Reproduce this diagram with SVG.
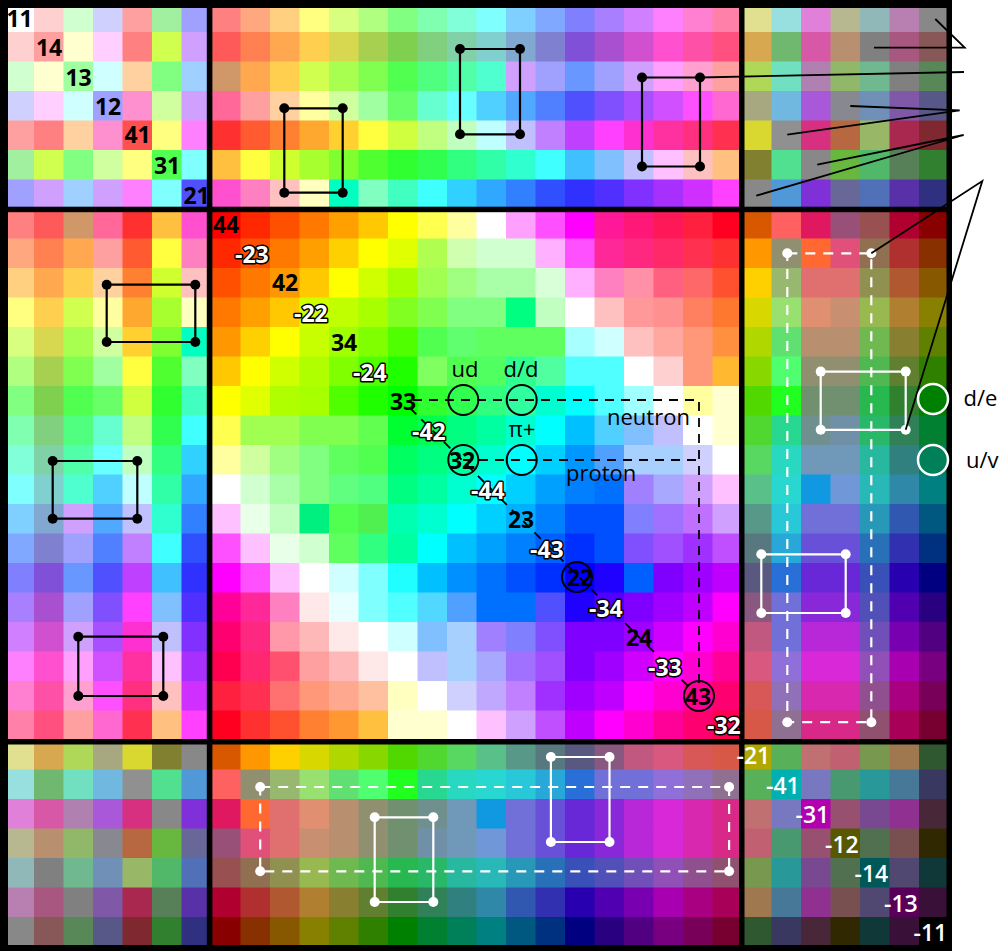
<svg xmlns="http://www.w3.org/2000/svg" width="1001" height="951" viewBox="0 0 1001 951">
<style>
#cells rect{width:30px;height:30px}
.k{fill:none;stroke:#000;stroke-width:2.2}
.w{fill:none;stroke:#fff;stroke-width:2.2}
.wd{fill:none;stroke:#fff;stroke-width:2.2;stroke-dasharray:10 8}
.kd{fill:none;stroke:#000;stroke-width:1.8;stroke-dasharray:9 7}
.ld{fill:none;stroke:#000;stroke-width:1.8}
.ck{fill:none;stroke:#000;stroke-width:2}
text{font-family:"Open Sans","Noto Sans","DejaVu Sans",sans-serif}
.n{font-size:23px;font-weight:700;text-anchor:end;fill:#000}
.nw{font-size:23px;font-weight:700;text-anchor:end;fill:#fff;stroke:#000;stroke-width:3;paint-order:stroke;stroke-linejoin:round}
.nr{font-size:23px;font-weight:600;text-anchor:end;fill:#fff}
.t{font-size:22px;fill:#000}
</style>
<rect width="1001" height="951" fill="#fff"/>
<g id="cells">
<g transform="translate(0,2.5)"><rect x="4.5" fill="#ffffff"/><rect x="34" fill="#ffd0d0"/><rect x="63.5" fill="#d0ffd0"/><rect x="93" fill="#d0d0ff"/><rect x="122.5" fill="#ffa0a0"/><rect x="152" fill="#a0f0a0"/><rect x="181.5" fill="#a0a0ff"/><rect x="211" fill="#ff8080"/><rect x="240.5" fill="#ffa880"/><rect x="270" fill="#ffd080"/><rect x="299.5" fill="#ffff80"/><rect x="329" fill="#d8ff80"/><rect x="358.5" fill="#b0ff80"/><rect x="388" fill="#80ff80"/><rect x="417.5" fill="#80ffb0"/><rect x="447" fill="#80ffd8"/><rect x="476.5" fill="#80ffff"/><rect x="506" fill="#80d0ff"/><rect x="535.5" fill="#80a8ff"/><rect x="565" fill="#8080ff"/><rect x="594.5" fill="#a880ff"/><rect x="624" fill="#d080ff"/><rect x="653.5" fill="#ff80ff"/><rect x="683" fill="#ff80d0"/><rect x="712.5" fill="#ff80a8"/><rect x="742" fill="#e0e090"/><rect x="771.5" fill="#98e0e0"/><rect x="801" fill="#e080d8"/><rect x="830.5" fill="#b8b890"/><rect x="860" fill="#90b8b8"/><rect x="889.5" fill="#b880b0"/><rect x="919" fill="#888888"/></g>
<g transform="translate(0,32)"><rect x="4.5" fill="#ffd0d0"/><rect x="34" fill="#ffa0a0"/><rect x="63.5" fill="#ffffd0"/><rect x="93" fill="#ffd0ff"/><rect x="122.5" fill="#ff8080"/><rect x="152" fill="#d0ff50"/><rect x="181.5" fill="#d0a0ff"/><rect x="211" fill="#ff5a5a"/><rect x="240.5" fill="#ff8050"/><rect x="270" fill="#ffa850"/><rect x="299.5" fill="#ffd050"/><rect x="329" fill="#d8d850"/><rect x="358.5" fill="#a8d050"/><rect x="388" fill="#80d050"/><rect x="417.5" fill="#80d080"/><rect x="447" fill="#80d0a8"/><rect x="476.5" fill="#80d0d0"/><rect x="506" fill="#80a8d0"/><rect x="535.5" fill="#8080d0"/><rect x="565" fill="#8050d8"/><rect x="594.5" fill="#a850d0"/><rect x="624" fill="#d050d0"/><rect x="653.5" fill="#ff50d0"/><rect x="683" fill="#ff50a8"/><rect x="712.5" fill="#ff5080"/><rect x="742" fill="#d8a850"/><rect x="771.5" fill="#70b870"/><rect x="801" fill="#d858a8"/><rect x="830.5" fill="#b89070"/><rect x="860" fill="#808080"/><rect x="889.5" fill="#a85880"/><rect x="919" fill="#885858"/></g>
<g transform="translate(0,61.5)"><rect x="4.5" fill="#d0ffd0"/><rect x="34" fill="#ffffd0"/><rect x="63.5" fill="#a0ffa0"/><rect x="93" fill="#d0ffff"/><rect x="122.5" fill="#ffd0a0"/><rect x="152" fill="#80ff80"/><rect x="181.5" fill="#a0d0ff"/><rect x="211" fill="#d09868"/><rect x="240.5" fill="#ffa850"/><rect x="270" fill="#ffd050"/><rect x="299.5" fill="#d0ff50"/><rect x="329" fill="#a8ff50"/><rect x="358.5" fill="#80ff50"/><rect x="388" fill="#50ff50"/><rect x="417.5" fill="#50ff80"/><rect x="447" fill="#50ffa8"/><rect x="476.5" fill="#50ffd0"/><rect x="506" fill="#d0a0ff"/><rect x="535.5" fill="#a0a0ff"/><rect x="565" fill="#6898ff"/><rect x="594.5" fill="#a0a0ff"/><rect x="624" fill="#d0a0ff"/><rect x="653.5" fill="#ffa0ff"/><rect x="683" fill="#ffa0d0"/><rect x="712.5" fill="#ffa0a0"/><rect x="742" fill="#b0d858"/><rect x="771.5" fill="#70e0c0"/><rect x="801" fill="#b080b0"/><rect x="830.5" fill="#90b868"/><rect x="860" fill="#70b890"/><rect x="889.5" fill="#808080"/><rect x="919" fill="#588858"/></g>
<g transform="translate(0,91)"><rect x="4.5" fill="#d0d0ff"/><rect x="34" fill="#ffd0ff"/><rect x="63.5" fill="#d0ffff"/><rect x="93" fill="#a0a0ff"/><rect x="122.5" fill="#ff90d0"/><rect x="152" fill="#d0ffa0"/><rect x="181.5" fill="#d0a0ff"/><rect x="211" fill="#ff6898"/><rect x="240.5" fill="#ffa0a0"/><rect x="270" fill="#ffd0a0"/><rect x="299.5" fill="#ffffa0"/><rect x="329" fill="#d0ffa0"/><rect x="358.5" fill="#a0ffa0"/><rect x="388" fill="#68ff68"/><rect x="417.5" fill="#68ffd0"/><rect x="447" fill="#68ffff"/><rect x="476.5" fill="#50d0ff"/><rect x="506" fill="#50a8ff"/><rect x="535.5" fill="#5080ff"/><rect x="565" fill="#5050ff"/><rect x="594.5" fill="#8050ff"/><rect x="624" fill="#a850ff"/><rect x="653.5" fill="#d050ff"/><rect x="683" fill="#ff50ff"/><rect x="712.5" fill="#ff68d0"/><rect x="742" fill="#a8a880"/><rect x="771.5" fill="#70b8e0"/><rect x="801" fill="#a858d8"/><rect x="830.5" fill="#888890"/><rect x="860" fill="#7090b8"/><rect x="889.5" fill="#8058a8"/><rect x="919" fill="#585888"/></g>
<g transform="translate(0,120.5)"><rect x="4.5" fill="#ffa0a0"/><rect x="34" fill="#ff8080"/><rect x="63.5" fill="#ffd0a0"/><rect x="93" fill="#ff90d0"/><rect x="122.5" fill="#ff5050"/><rect x="152" fill="#ffff80"/><rect x="181.5" fill="#ff80ff"/><rect x="211" fill="#ff3030"/><rect x="240.5" fill="#ff5a30"/><rect x="270" fill="#ff8030"/><rect x="299.5" fill="#ffa830"/><rect x="329" fill="#ffd030"/><rect x="358.5" fill="#ffff40"/><rect x="388" fill="#d0ff40"/><rect x="417.5" fill="#c0ff80"/><rect x="447" fill="#c0ffc0"/><rect x="476.5" fill="#c0ffff"/><rect x="506" fill="#c0c0ff"/><rect x="535.5" fill="#c080ff"/><rect x="565" fill="#c040ff"/><rect x="594.5" fill="#ff40ff"/><rect x="624" fill="#ff30d0"/><rect x="653.5" fill="#ff30a0"/><rect x="683" fill="#ff3080"/><rect x="712.5" fill="#ff3050"/><rect x="742" fill="#d8d830"/><rect x="771.5" fill="#909090"/><rect x="801" fill="#d83080"/><rect x="830.5" fill="#b86840"/><rect x="860" fill="#98b868"/><rect x="889.5" fill="#a82850"/><rect x="919" fill="#802830"/></g>
<g transform="translate(0,150)"><rect x="4.5" fill="#a0f0a0"/><rect x="34" fill="#d0ff50"/><rect x="63.5" fill="#80ff80"/><rect x="93" fill="#d0ffa0"/><rect x="122.5" fill="#ffff80"/><rect x="152" fill="#50ff50"/><rect x="181.5" fill="#80ffff"/><rect x="211" fill="#ffc040"/><rect x="240.5" fill="#ffff40"/><rect x="270" fill="#d0ff30"/><rect x="299.5" fill="#a8ff30"/><rect x="329" fill="#80ff30"/><rect x="358.5" fill="#50ff30"/><rect x="388" fill="#30ff30"/><rect x="417.5" fill="#30ff50"/><rect x="447" fill="#30ff80"/><rect x="476.5" fill="#30ffa8"/><rect x="506" fill="#30ffd0"/><rect x="535.5" fill="#40ffff"/><rect x="565" fill="#40c0ff"/><rect x="594.5" fill="#80c0ff"/><rect x="624" fill="#c0c0ff"/><rect x="653.5" fill="#ffc0ff"/><rect x="683" fill="#ffc0c0"/><rect x="712.5" fill="#ffc080"/><rect x="742" fill="#808030"/><rect x="771.5" fill="#50e090"/><rect x="801" fill="#888888"/><rect x="830.5" fill="#68b840"/><rect x="860" fill="#50b868"/><rect x="889.5" fill="#588058"/><rect x="919" fill="#308030"/></g>
<g transform="translate(0,179.5)"><rect x="4.5" fill="#a0a0ff"/><rect x="34" fill="#d0a0ff"/><rect x="63.5" fill="#a0d0ff"/><rect x="93" fill="#d0a0ff"/><rect x="122.5" fill="#ff80ff"/><rect x="152" fill="#80ffff"/><rect x="181.5" fill="#5050ff"/><rect x="211" fill="#ff50d0"/><rect x="240.5" fill="#ff80c0"/><rect x="270" fill="#ffc0c0"/><rect x="299.5" fill="#ffffc0"/><rect x="329" fill="#00ffc0"/><rect x="358.5" fill="#80ffc0"/><rect x="388" fill="#40ffc0"/><rect x="417.5" fill="#40ffff"/><rect x="447" fill="#30d0ff"/><rect x="476.5" fill="#30a8ff"/><rect x="506" fill="#3080ff"/><rect x="535.5" fill="#3050ff"/><rect x="565" fill="#3030ff"/><rect x="594.5" fill="#5030ff"/><rect x="624" fill="#8030ff"/><rect x="653.5" fill="#a830ff"/><rect x="683" fill="#d030ff"/><rect x="712.5" fill="#ff40ff"/><rect x="742" fill="#888888"/><rect x="771.5" fill="#5098d8"/><rect x="801" fill="#8030d8"/><rect x="830.5" fill="#686898"/><rect x="860" fill="#5070b8"/><rect x="889.5" fill="#5830a8"/><rect x="919" fill="#303080"/></g>
<g transform="translate(0,209)"><rect x="4.5" fill="#ff8080"/><rect x="34" fill="#ff5a5a"/><rect x="63.5" fill="#d09868"/><rect x="93" fill="#ff6898"/><rect x="122.5" fill="#ff3030"/><rect x="152" fill="#ffc040"/><rect x="181.5" fill="#ff50d0"/><rect x="211" fill="#ff0000"/><rect x="240.5" fill="#ff2800"/><rect x="270" fill="#ff5000"/><rect x="299.5" fill="#ff7800"/><rect x="329" fill="#ffa000"/><rect x="358.5" fill="#ffc800"/><rect x="388" fill="#ffff00"/><rect x="417.5" fill="#ffff50"/><rect x="447" fill="#ffffa0"/><rect x="476.5" fill="#ffffff"/><rect x="506" fill="#ffa0ff"/><rect x="535.5" fill="#ff50ff"/><rect x="565" fill="#ff00ff"/><rect x="594.5" fill="#ff1898"/><rect x="624" fill="#ff1878"/><rect x="653.5" fill="#ff1858"/><rect x="683" fill="#ff2040"/><rect x="712.5" fill="#ff0020"/><rect x="742" fill="#d85800"/><rect x="771.5" fill="#ff6060"/><rect x="801" fill="#e01860"/><rect x="830.5" fill="#985078"/><rect x="860" fill="#985050"/><rect x="889.5" fill="#b00030"/><rect x="919" fill="#880000"/></g>
<g transform="translate(0,238.5)"><rect x="4.5" fill="#ffa880"/><rect x="34" fill="#ff8050"/><rect x="63.5" fill="#ffa850"/><rect x="93" fill="#ffa0a0"/><rect x="122.5" fill="#ff5a30"/><rect x="152" fill="#ffff40"/><rect x="181.5" fill="#ff80c0"/><rect x="211" fill="#ff2800"/><rect x="240.5" fill="#ff5000"/><rect x="270" fill="#ff7800"/><rect x="299.5" fill="#ffa000"/><rect x="329" fill="#ffd000"/><rect x="358.5" fill="#ffff00"/><rect x="388" fill="#e0ff00"/><rect x="417.5" fill="#b0ff50"/><rect x="447" fill="#d0ffb0"/><rect x="476.5" fill="#d0ffd0"/><rect x="506" fill="#d0ffd0"/><rect x="535.5" fill="#ffb0ff"/><rect x="565" fill="#ff50ff"/><rect x="594.5" fill="#ff2898"/><rect x="624" fill="#ff2880"/><rect x="653.5" fill="#ff2868"/><rect x="683" fill="#ff3050"/><rect x="712.5" fill="#ff3030"/><rect x="742" fill="#ff9800"/><rect x="771.5" fill="#909070"/><rect x="801" fill="#ff6830"/><rect x="830.5" fill="#e05078"/><rect x="860" fill="#907050"/><rect x="889.5" fill="#b03030"/><rect x="919" fill="#883000"/></g>
<g transform="translate(0,268)"><rect x="4.5" fill="#ffd080"/><rect x="34" fill="#ffa850"/><rect x="63.5" fill="#ffd050"/><rect x="93" fill="#ffd0a0"/><rect x="122.5" fill="#ff8030"/><rect x="152" fill="#d0ff30"/><rect x="181.5" fill="#ffc0c0"/><rect x="211" fill="#ff5000"/><rect x="240.5" fill="#ff7800"/><rect x="270" fill="#ff9800"/><rect x="299.5" fill="#ffc800"/><rect x="329" fill="#ffff00"/><rect x="358.5" fill="#d0ff00"/><rect x="388" fill="#a8ff00"/><rect x="417.5" fill="#a0ff50"/><rect x="447" fill="#a0ff80"/><rect x="476.5" fill="#a8ffa8"/><rect x="506" fill="#a8ffa8"/><rect x="535.5" fill="#d8ffd8"/><rect x="565" fill="#ffb0ff"/><rect x="594.5" fill="#ff80c0"/><rect x="624" fill="#ff90a8"/><rect x="653.5" fill="#ff6080"/><rect x="683" fill="#ff6868"/><rect x="712.5" fill="#ff5030"/><rect x="742" fill="#ffd000"/><rect x="771.5" fill="#98b870"/><rect x="801" fill="#e07070"/><rect x="830.5" fill="#e07070"/><rect x="860" fill="#909050"/><rect x="889.5" fill="#b05830"/><rect x="919" fill="#885800"/></g>
<g transform="translate(0,297.5)"><rect x="4.5" fill="#ffff80"/><rect x="34" fill="#ffd050"/><rect x="63.5" fill="#d0ff50"/><rect x="93" fill="#ffffa0"/><rect x="122.5" fill="#ffa830"/><rect x="152" fill="#a8ff30"/><rect x="181.5" fill="#ffffc0"/><rect x="211" fill="#ff7800"/><rect x="240.5" fill="#ffa000"/><rect x="270" fill="#ffc800"/><rect x="299.5" fill="#d0ff00"/><rect x="329" fill="#c0ff00"/><rect x="358.5" fill="#a8ff00"/><rect x="388" fill="#80ff20"/><rect x="417.5" fill="#80ff50"/><rect x="447" fill="#80ff80"/><rect x="476.5" fill="#80ff80"/><rect x="506" fill="#00ff80"/><rect x="535.5" fill="#c0ffc0"/><rect x="565" fill="#ffffff"/><rect x="594.5" fill="#ffc0c0"/><rect x="624" fill="#ff9898"/><rect x="653.5" fill="#ff9090"/><rect x="683" fill="#ff8060"/><rect x="712.5" fill="#ff7830"/><rect x="742" fill="#d8d800"/><rect x="771.5" fill="#98e070"/><rect x="801" fill="#e09070"/><rect x="830.5" fill="#c89070"/><rect x="860" fill="#98b850"/><rect x="889.5" fill="#b08030"/><rect x="919" fill="#888000"/></g>
<g transform="translate(0,327)"><rect x="4.5" fill="#d8ff80"/><rect x="34" fill="#d8d850"/><rect x="63.5" fill="#a8ff50"/><rect x="93" fill="#d0ffa0"/><rect x="122.5" fill="#ffd030"/><rect x="152" fill="#80ff30"/><rect x="181.5" fill="#00ffc0"/><rect x="211" fill="#ff9800"/><rect x="240.5" fill="#ffd000"/><rect x="270" fill="#ffff00"/><rect x="299.5" fill="#c8ff00"/><rect x="329" fill="#a0ff00"/><rect x="358.5" fill="#80ff00"/><rect x="388" fill="#50ff00"/><rect x="417.5" fill="#50ff50"/><rect x="447" fill="#60ff70"/><rect x="476.5" fill="#60ff60"/><rect x="506" fill="#60ff60"/><rect x="535.5" fill="#60ff60"/><rect x="565" fill="#a8ffff"/><rect x="594.5" fill="#d0ffff"/><rect x="624" fill="#ffc0c0"/><rect x="653.5" fill="#ffa8a0"/><rect x="683" fill="#ff9878"/><rect x="712.5" fill="#ff9040"/><rect x="742" fill="#b0d800"/><rect x="771.5" fill="#60e070"/><rect x="801" fill="#b89070"/><rect x="830.5" fill="#b89070"/><rect x="860" fill="#70b850"/><rect x="889.5" fill="#888030"/><rect x="919" fill="#608000"/></g>
<g transform="translate(0,356.5)"><rect x="4.5" fill="#b0ff80"/><rect x="34" fill="#a8d050"/><rect x="63.5" fill="#80ff50"/><rect x="93" fill="#a0ffa0"/><rect x="122.5" fill="#ffff40"/><rect x="152" fill="#50ff30"/><rect x="181.5" fill="#80ffc0"/><rect x="211" fill="#ffc800"/><rect x="240.5" fill="#ffff00"/><rect x="270" fill="#d0ff00"/><rect x="299.5" fill="#b0ff00"/><rect x="329" fill="#80ff00"/><rect x="358.5" fill="#50ff00"/><rect x="388" fill="#20ff00"/><rect x="417.5" fill="#80ff60"/><rect x="447" fill="#50ff50"/><rect x="476.5" fill="#50ff60"/><rect x="506" fill="#30ff90"/><rect x="535.5" fill="#50ffa0"/><rect x="565" fill="#50ffff"/><rect x="594.5" fill="#50ffff"/><rect x="624" fill="#ffffff"/><rect x="653.5" fill="#ffd0d0"/><rect x="683" fill="#ff9878"/><rect x="712.5" fill="#ffb830"/><rect x="742" fill="#88d800"/><rect x="771.5" fill="#50ff70"/><rect x="801" fill="#909070"/><rect x="830.5" fill="#909070"/><rect x="860" fill="#50b850"/><rect x="889.5" fill="#608030"/><rect x="919" fill="#308000"/></g>
<g transform="translate(0,386)"><rect x="4.5" fill="#80ff80"/><rect x="34" fill="#80d050"/><rect x="63.5" fill="#50ff50"/><rect x="93" fill="#68ff68"/><rect x="122.5" fill="#d0ff40"/><rect x="152" fill="#30ff30"/><rect x="181.5" fill="#40ffc0"/><rect x="211" fill="#ffff00"/><rect x="240.5" fill="#e0ff00"/><rect x="270" fill="#b0ff00"/><rect x="299.5" fill="#a8ff00"/><rect x="329" fill="#50ff00"/><rect x="358.5" fill="#20ff00"/><rect x="388" fill="#00ff00"/><rect x="417.5" fill="#30ff30"/><rect x="447" fill="#30ff50"/><rect x="476.5" fill="#30ff80"/><rect x="506" fill="#30ffa0"/><rect x="535.5" fill="#00ffd0"/><rect x="565" fill="#00ffff"/><rect x="594.5" fill="#50ffff"/><rect x="624" fill="#a0ffff"/><rect x="653.5" fill="#ffffff"/><rect x="683" fill="#ffffa0"/><rect x="712.5" fill="#ffffd0"/><rect x="742" fill="#50d800"/><rect x="771.5" fill="#20ff20"/><rect x="801" fill="#709070"/><rect x="830.5" fill="#709070"/><rect x="860" fill="#28b850"/><rect x="889.5" fill="#308030"/><rect x="919" fill="#008000"/></g>
<g transform="translate(0,415.5)"><rect x="4.5" fill="#80ffb0"/><rect x="34" fill="#80d080"/><rect x="63.5" fill="#50ff80"/><rect x="93" fill="#68ffd0"/><rect x="122.5" fill="#c0ff80"/><rect x="152" fill="#30ff50"/><rect x="181.5" fill="#40ffff"/><rect x="211" fill="#ffff50"/><rect x="240.5" fill="#a0ff50"/><rect x="270" fill="#a0ff50"/><rect x="299.5" fill="#80ff50"/><rect x="329" fill="#80ff50"/><rect x="358.5" fill="#60ff50"/><rect x="388" fill="#00ff30"/><rect x="417.5" fill="#00ff50"/><rect x="447" fill="#00ff80"/><rect x="476.5" fill="#00ffa0"/><rect x="506" fill="#00ffd0"/><rect x="535.5" fill="#00ffff"/><rect x="565" fill="#00c0ff"/><rect x="594.5" fill="#50d0ff"/><rect x="624" fill="#80c0ff"/><rect x="653.5" fill="#c0c0ff"/><rect x="683" fill="#ffffff"/><rect x="712.5" fill="#ffffd0"/><rect x="742" fill="#50d830"/><rect x="771.5" fill="#28d890"/><rect x="801" fill="#709090"/><rect x="830.5" fill="#7090a8"/><rect x="860" fill="#28b868"/><rect x="889.5" fill="#308058"/><rect x="919" fill="#008030"/></g>
<g transform="translate(0,445)"><rect x="4.5" fill="#80ffd8"/><rect x="34" fill="#80d0a8"/><rect x="63.5" fill="#50ffa8"/><rect x="93" fill="#68ffff"/><rect x="122.5" fill="#c0ffc0"/><rect x="152" fill="#30ff80"/><rect x="181.5" fill="#30d0ff"/><rect x="211" fill="#ffffa0"/><rect x="240.5" fill="#d0ffa0"/><rect x="270" fill="#a0ff80"/><rect x="299.5" fill="#80ff80"/><rect x="329" fill="#60ff60"/><rect x="358.5" fill="#50ff50"/><rect x="388" fill="#00ff60"/><rect x="417.5" fill="#00ff80"/><rect x="447" fill="#00ffa0"/><rect x="476.5" fill="#00ffd0"/><rect x="506" fill="#00ffff"/><rect x="535.5" fill="#00d0ff"/><rect x="565" fill="#0098ff"/><rect x="594.5" fill="#50a0ff"/><rect x="624" fill="#a8d0ff"/><rect x="653.5" fill="#a8d0ff"/><rect x="683" fill="#d0d0ff"/><rect x="712.5" fill="#ffffff"/><rect x="742" fill="#58d860"/><rect x="771.5" fill="#28d8c0"/><rect x="801" fill="#7098b8"/><rect x="830.5" fill="#7098b8"/><rect x="860" fill="#28b8a0"/><rect x="889.5" fill="#308080"/><rect x="919" fill="#008058"/></g>
<g transform="translate(0,474.5)"><rect x="4.5" fill="#80ffff"/><rect x="34" fill="#80d0d0"/><rect x="63.5" fill="#50ffd0"/><rect x="93" fill="#50d0ff"/><rect x="122.5" fill="#c0ffff"/><rect x="152" fill="#30ffa8"/><rect x="181.5" fill="#30a8ff"/><rect x="211" fill="#ffffff"/><rect x="240.5" fill="#d0ffd0"/><rect x="270" fill="#a8ffa8"/><rect x="299.5" fill="#80ff80"/><rect x="329" fill="#60ff80"/><rect x="358.5" fill="#50ff80"/><rect x="388" fill="#00ff80"/><rect x="417.5" fill="#00ffa0"/><rect x="447" fill="#00ffd0"/><rect x="476.5" fill="#00ffff"/><rect x="506" fill="#00d0ff"/><rect x="535.5" fill="#00a0ff"/><rect x="565" fill="#0080ff"/><rect x="594.5" fill="#0070ff"/><rect x="624" fill="#a080ff"/><rect x="653.5" fill="#a8a8ff"/><rect x="683" fill="#d0a0ff"/><rect x="712.5" fill="#ffc0ff"/><rect x="742" fill="#58c088"/><rect x="771.5" fill="#28d8d0"/><rect x="801" fill="#1098e0"/><rect x="830.5" fill="#7098d8"/><rect x="860" fill="#28b8b8"/><rect x="889.5" fill="#3088a8"/><rect x="919" fill="#008080"/></g>
<g transform="translate(0,504)"><rect x="4.5" fill="#80d0ff"/><rect x="34" fill="#80a8d0"/><rect x="63.5" fill="#d0a0ff"/><rect x="93" fill="#50a8ff"/><rect x="122.5" fill="#c0c0ff"/><rect x="152" fill="#30ffd0"/><rect x="181.5" fill="#3080ff"/><rect x="211" fill="#ffc0ff"/><rect x="240.5" fill="#e8ffe8"/><rect x="270" fill="#c0ffc0"/><rect x="299.5" fill="#00f080"/><rect x="329" fill="#50ff50"/><rect x="358.5" fill="#50f050"/><rect x="388" fill="#00ffb0"/><rect x="417.5" fill="#00ffd0"/><rect x="447" fill="#00ffff"/><rect x="476.5" fill="#00d0ff"/><rect x="506" fill="#00b0ff"/><rect x="535.5" fill="#0080ff"/><rect x="565" fill="#0050ff"/><rect x="594.5" fill="#0050ff"/><rect x="624" fill="#8080ff"/><rect x="653.5" fill="#a070ff"/><rect x="683" fill="#c070ff"/><rect x="712.5" fill="#d0a0ff"/><rect x="742" fill="#589888"/><rect x="771.5" fill="#28c8d8"/><rect x="801" fill="#7070d8"/><rect x="830.5" fill="#7070d8"/><rect x="860" fill="#2898b8"/><rect x="889.5" fill="#3058b0"/><rect x="919" fill="#005880"/></g>
<g transform="translate(0,533.5)"><rect x="4.5" fill="#80a8ff"/><rect x="34" fill="#8080d0"/><rect x="63.5" fill="#a0a0ff"/><rect x="93" fill="#5080ff"/><rect x="122.5" fill="#c080ff"/><rect x="152" fill="#40ffff"/><rect x="181.5" fill="#3050ff"/><rect x="211" fill="#ff50ff"/><rect x="240.5" fill="#ffc0ff"/><rect x="270" fill="#e8ffe8"/><rect x="299.5" fill="#d0ffd0"/><rect x="329" fill="#60ff60"/><rect x="358.5" fill="#30ff80"/><rect x="388" fill="#00ffa0"/><rect x="417.5" fill="#00ffff"/><rect x="447" fill="#00c0ff"/><rect x="476.5" fill="#00a0ff"/><rect x="506" fill="#0080ff"/><rect x="535.5" fill="#0060ff"/><rect x="565" fill="#0030ff"/><rect x="594.5" fill="#0050ff"/><rect x="624" fill="#8050ff"/><rect x="653.5" fill="#a050ff"/><rect x="683" fill="#a030ff"/><rect x="712.5" fill="#c050ff"/><rect x="742" fill="#587880"/><rect x="771.5" fill="#28a8d8"/><rect x="801" fill="#6850d8"/><rect x="830.5" fill="#6850d8"/><rect x="860" fill="#2870b8"/><rect x="889.5" fill="#3030b0"/><rect x="919" fill="#003080"/></g>
<g transform="translate(0,563)"><rect x="4.5" fill="#8080ff"/><rect x="34" fill="#8050d8"/><rect x="63.5" fill="#6898ff"/><rect x="93" fill="#5050ff"/><rect x="122.5" fill="#c040ff"/><rect x="152" fill="#40c0ff"/><rect x="181.5" fill="#3030ff"/><rect x="211" fill="#ff00ff"/><rect x="240.5" fill="#ff50ff"/><rect x="270" fill="#ffc0ff"/><rect x="299.5" fill="#ffffff"/><rect x="329" fill="#d0ffff"/><rect x="358.5" fill="#80ffff"/><rect x="388" fill="#20ffff"/><rect x="417.5" fill="#00c0ff"/><rect x="447" fill="#0090ff"/><rect x="476.5" fill="#0070ff"/><rect x="506" fill="#0050ff"/><rect x="535.5" fill="#0030ff"/><rect x="565" fill="#0000ff"/><rect x="594.5" fill="#2000ff"/><rect x="624" fill="#0060ff"/><rect x="653.5" fill="#8000ff"/><rect x="683" fill="#a000ff"/><rect x="712.5" fill="#c000ff"/><rect x="742" fill="#585880"/><rect x="771.5" fill="#2870d8"/><rect x="801" fill="#6828d8"/><rect x="830.5" fill="#6828d8"/><rect x="860" fill="#3850b8"/><rect x="889.5" fill="#2800b0"/><rect x="919" fill="#000080"/></g>
<g transform="translate(0,592.5)"><rect x="4.5" fill="#a880ff"/><rect x="34" fill="#a850d0"/><rect x="63.5" fill="#a0a0ff"/><rect x="93" fill="#8050ff"/><rect x="122.5" fill="#ff40ff"/><rect x="152" fill="#80c0ff"/><rect x="181.5" fill="#5030ff"/><rect x="211" fill="#ff0098"/><rect x="240.5" fill="#ff2898"/><rect x="270" fill="#ff80c0"/><rect x="299.5" fill="#ffe8e8"/><rect x="329" fill="#e8ffff"/><rect x="358.5" fill="#80ffff"/><rect x="388" fill="#50ffff"/><rect x="417.5" fill="#50d8ff"/><rect x="447" fill="#50a0ff"/><rect x="476.5" fill="#0070ff"/><rect x="506" fill="#0070ff"/><rect x="535.5" fill="#5050ff"/><rect x="565" fill="#2000ff"/><rect x="594.5" fill="#5000ff"/><rect x="624" fill="#8000ff"/><rect x="653.5" fill="#a000ff"/><rect x="683" fill="#c000ff"/><rect x="712.5" fill="#ff00ff"/><rect x="742" fill="#885880"/><rect x="771.5" fill="#7070d8"/><rect x="801" fill="#8828d8"/><rect x="830.5" fill="#8828d8"/><rect x="860" fill="#5050b8"/><rect x="889.5" fill="#5000b0"/><rect x="919" fill="#280080"/></g>
<g transform="translate(0,622)"><rect x="4.5" fill="#d080ff"/><rect x="34" fill="#d050d0"/><rect x="63.5" fill="#d0a0ff"/><rect x="93" fill="#a850ff"/><rect x="122.5" fill="#ff30d0"/><rect x="152" fill="#c0c0ff"/><rect x="181.5" fill="#8030ff"/><rect x="211" fill="#ff0070"/><rect x="240.5" fill="#ff2880"/><rect x="270" fill="#ff98a8"/><rect x="299.5" fill="#ffb8b8"/><rect x="329" fill="#ffe8e8"/><rect x="358.5" fill="#ffffff"/><rect x="388" fill="#d0ffff"/><rect x="417.5" fill="#80c0ff"/><rect x="447" fill="#a8d0ff"/><rect x="476.5" fill="#a080ff"/><rect x="506" fill="#8080ff"/><rect x="535.5" fill="#8050ff"/><rect x="565" fill="#8000ff"/><rect x="594.5" fill="#8000ff"/><rect x="624" fill="#a000ff"/><rect x="653.5" fill="#d000ff"/><rect x="683" fill="#ff00ff"/><rect x="712.5" fill="#ff00d0"/><rect x="742" fill="#c05880"/><rect x="771.5" fill="#7070d8"/><rect x="801" fill="#b828d8"/><rect x="830.5" fill="#b828d8"/><rect x="860" fill="#7050b8"/><rect x="889.5" fill="#7800b0"/><rect x="919" fill="#500080"/></g>
<g transform="translate(0,651.5)"><rect x="4.5" fill="#ff80ff"/><rect x="34" fill="#ff50d0"/><rect x="63.5" fill="#ffa0ff"/><rect x="93" fill="#d050ff"/><rect x="122.5" fill="#ff30a0"/><rect x="152" fill="#ffc0ff"/><rect x="181.5" fill="#a830ff"/><rect x="211" fill="#ff0050"/><rect x="240.5" fill="#ff2870"/><rect x="270" fill="#ff5070"/><rect x="299.5" fill="#ffa0a0"/><rect x="329" fill="#ffb8b8"/><rect x="358.5" fill="#ffe8e8"/><rect x="388" fill="#ffffff"/><rect x="417.5" fill="#c0c0ff"/><rect x="447" fill="#a8d0ff"/><rect x="476.5" fill="#a8a8ff"/><rect x="506" fill="#a070ff"/><rect x="535.5" fill="#a050ff"/><rect x="565" fill="#8000ff"/><rect x="594.5" fill="#a000ff"/><rect x="624" fill="#d000ff"/><rect x="653.5" fill="#ff00ff"/><rect x="683" fill="#ff00d0"/><rect x="712.5" fill="#ff0098"/><rect x="742" fill="#d85880"/><rect x="771.5" fill="#9070d8"/><rect x="801" fill="#d828d8"/><rect x="830.5" fill="#d828d8"/><rect x="860" fill="#9050b8"/><rect x="889.5" fill="#a800b0"/><rect x="919" fill="#780080"/></g>
<g transform="translate(0,681)"><rect x="4.5" fill="#ff80d0"/><rect x="34" fill="#ff50a8"/><rect x="63.5" fill="#ffa0d0"/><rect x="93" fill="#ff50ff"/><rect x="122.5" fill="#ff3080"/><rect x="152" fill="#ffc0c0"/><rect x="181.5" fill="#d030ff"/><rect x="211" fill="#ff2040"/><rect x="240.5" fill="#ff3050"/><rect x="270" fill="#ff7070"/><rect x="299.5" fill="#ff9878"/><rect x="329" fill="#ffa890"/><rect x="358.5" fill="#ffc0a0"/><rect x="388" fill="#ffffc0"/><rect x="417.5" fill="#ffffff"/><rect x="447" fill="#d0d0ff"/><rect x="476.5" fill="#c0a8ff"/><rect x="506" fill="#c080ff"/><rect x="535.5" fill="#a030ff"/><rect x="565" fill="#a000ff"/><rect x="594.5" fill="#c000ff"/><rect x="624" fill="#ff00ff"/><rect x="653.5" fill="#ff00d0"/><rect x="683" fill="#ff0098"/><rect x="712.5" fill="#ff0070"/><rect x="742" fill="#d85858"/><rect x="771.5" fill="#9070b8"/><rect x="801" fill="#d828b0"/><rect x="830.5" fill="#d828b0"/><rect x="860" fill="#905090"/><rect x="889.5" fill="#a80080"/><rect x="919" fill="#780058"/></g>
<g transform="translate(0,710.5)"><rect x="4.5" fill="#ff80a8"/><rect x="34" fill="#ff5080"/><rect x="63.5" fill="#ffa0a0"/><rect x="93" fill="#ff68d0"/><rect x="122.5" fill="#ff3050"/><rect x="152" fill="#ffc080"/><rect x="181.5" fill="#ff40ff"/><rect x="211" fill="#ff0020"/><rect x="240.5" fill="#ff3030"/><rect x="270" fill="#ff5030"/><rect x="299.5" fill="#ff8030"/><rect x="329" fill="#ff9830"/><rect x="358.5" fill="#ffc040"/><rect x="388" fill="#ffffd0"/><rect x="417.5" fill="#ffffd0"/><rect x="447" fill="#ffffff"/><rect x="476.5" fill="#ffc0ff"/><rect x="506" fill="#d0a0ff"/><rect x="535.5" fill="#c050ff"/><rect x="565" fill="#c000ff"/><rect x="594.5" fill="#ff00ff"/><rect x="624" fill="#ff00d0"/><rect x="653.5" fill="#ff0098"/><rect x="683" fill="#ff0070"/><rect x="712.5" fill="#ff0050"/><rect x="742" fill="#d85848"/><rect x="771.5" fill="#907090"/><rect x="801" fill="#d82888"/><rect x="830.5" fill="#d82888"/><rect x="860" fill="#905070"/><rect x="889.5" fill="#a80058"/><rect x="919" fill="#780030"/></g>
<g transform="translate(0,740)"><rect x="4.5" fill="#e0e090"/><rect x="34" fill="#d8a850"/><rect x="63.5" fill="#b0d858"/><rect x="93" fill="#a8a880"/><rect x="122.5" fill="#d8d830"/><rect x="152" fill="#808030"/><rect x="181.5" fill="#888888"/><rect x="211" fill="#d85800"/><rect x="240.5" fill="#ff9800"/><rect x="270" fill="#ffd000"/><rect x="299.5" fill="#d8d800"/><rect x="329" fill="#b0d800"/><rect x="358.5" fill="#88d800"/><rect x="388" fill="#50d800"/><rect x="417.5" fill="#50d830"/><rect x="447" fill="#58d860"/><rect x="476.5" fill="#58c088"/><rect x="506" fill="#589888"/><rect x="535.5" fill="#587880"/><rect x="565" fill="#585880"/><rect x="594.5" fill="#885880"/><rect x="624" fill="#c05880"/><rect x="653.5" fill="#d85880"/><rect x="683" fill="#d85858"/><rect x="712.5" fill="#d85848"/><rect x="742" fill="#b0a800"/><rect x="771.5" fill="#58b058"/><rect x="801" fill="#c07070"/><rect x="830.5" fill="#c06070"/><rect x="860" fill="#789850"/><rect x="889.5" fill="#a07850"/><rect x="919" fill="#305830"/></g>
<g transform="translate(0,769.5)"><rect x="4.5" fill="#98e0e0"/><rect x="34" fill="#70b870"/><rect x="63.5" fill="#70e0c0"/><rect x="93" fill="#70b8e0"/><rect x="122.5" fill="#909090"/><rect x="152" fill="#50e090"/><rect x="181.5" fill="#5098d8"/><rect x="211" fill="#ff6060"/><rect x="240.5" fill="#909070"/><rect x="270" fill="#98b870"/><rect x="299.5" fill="#98e070"/><rect x="329" fill="#60e070"/><rect x="358.5" fill="#50ff70"/><rect x="388" fill="#20ff20"/><rect x="417.5" fill="#28d890"/><rect x="447" fill="#28d8c0"/><rect x="476.5" fill="#28d8d0"/><rect x="506" fill="#28c8d8"/><rect x="535.5" fill="#28a8d8"/><rect x="565" fill="#2870d8"/><rect x="594.5" fill="#7070d8"/><rect x="624" fill="#7070d8"/><rect x="653.5" fill="#9070d8"/><rect x="683" fill="#9070b8"/><rect x="712.5" fill="#907090"/><rect x="742" fill="#58b058"/><rect x="771.5" fill="#00b0b0"/><rect x="801" fill="#7878c0"/><rect x="830.5" fill="#489870"/><rect x="860" fill="#289898"/><rect x="889.5" fill="#487898"/><rect x="919" fill="#383860"/></g>
<g transform="translate(0,799)"><rect x="4.5" fill="#e080d8"/><rect x="34" fill="#d858a8"/><rect x="63.5" fill="#b080b0"/><rect x="93" fill="#a858d8"/><rect x="122.5" fill="#d83080"/><rect x="152" fill="#888888"/><rect x="181.5" fill="#8030d8"/><rect x="211" fill="#e01860"/><rect x="240.5" fill="#ff6830"/><rect x="270" fill="#e07070"/><rect x="299.5" fill="#e09070"/><rect x="329" fill="#b89070"/><rect x="358.5" fill="#909070"/><rect x="388" fill="#709070"/><rect x="417.5" fill="#709090"/><rect x="447" fill="#7098b8"/><rect x="476.5" fill="#1098e0"/><rect x="506" fill="#7070d8"/><rect x="535.5" fill="#6850d8"/><rect x="565" fill="#6828d8"/><rect x="594.5" fill="#8828d8"/><rect x="624" fill="#b828d8"/><rect x="653.5" fill="#d828d8"/><rect x="683" fill="#d828b0"/><rect x="712.5" fill="#d82888"/><rect x="742" fill="#c07070"/><rect x="771.5" fill="#7878c0"/><rect x="801" fill="#b000b0"/><rect x="830.5" fill="#985070"/><rect x="860" fill="#784890"/><rect x="889.5" fill="#903090"/><rect x="919" fill="#482838"/></g>
<g transform="translate(0,828.5)"><rect x="4.5" fill="#b8b890"/><rect x="34" fill="#b89070"/><rect x="63.5" fill="#90b868"/><rect x="93" fill="#888890"/><rect x="122.5" fill="#b86840"/><rect x="152" fill="#68b840"/><rect x="181.5" fill="#686898"/><rect x="211" fill="#985078"/><rect x="240.5" fill="#e05078"/><rect x="270" fill="#e07070"/><rect x="299.5" fill="#c89070"/><rect x="329" fill="#b89070"/><rect x="358.5" fill="#909070"/><rect x="388" fill="#709070"/><rect x="417.5" fill="#7090a8"/><rect x="447" fill="#7098b8"/><rect x="476.5" fill="#7098d8"/><rect x="506" fill="#7070d8"/><rect x="535.5" fill="#6850d8"/><rect x="565" fill="#6828d8"/><rect x="594.5" fill="#8828d8"/><rect x="624" fill="#b828d8"/><rect x="653.5" fill="#d828d8"/><rect x="683" fill="#d828b0"/><rect x="712.5" fill="#d82888"/><rect x="742" fill="#c06070"/><rect x="771.5" fill="#489870"/><rect x="801" fill="#985070"/><rect x="830.5" fill="#585800"/><rect x="860" fill="#507050"/><rect x="889.5" fill="#785050"/><rect x="919" fill="#302800"/></g>
<g transform="translate(0,858)"><rect x="4.5" fill="#90b8b8"/><rect x="34" fill="#808080"/><rect x="63.5" fill="#70b890"/><rect x="93" fill="#7090b8"/><rect x="122.5" fill="#98b868"/><rect x="152" fill="#50b868"/><rect x="181.5" fill="#5070b8"/><rect x="211" fill="#985050"/><rect x="240.5" fill="#907050"/><rect x="270" fill="#909050"/><rect x="299.5" fill="#98b850"/><rect x="329" fill="#70b850"/><rect x="358.5" fill="#50b850"/><rect x="388" fill="#28b850"/><rect x="417.5" fill="#28b868"/><rect x="447" fill="#28b8a0"/><rect x="476.5" fill="#28b8b8"/><rect x="506" fill="#2898b8"/><rect x="535.5" fill="#2870b8"/><rect x="565" fill="#3850b8"/><rect x="594.5" fill="#5050b8"/><rect x="624" fill="#7050b8"/><rect x="653.5" fill="#9050b8"/><rect x="683" fill="#905090"/><rect x="712.5" fill="#905070"/><rect x="742" fill="#789850"/><rect x="771.5" fill="#289898"/><rect x="801" fill="#784890"/><rect x="830.5" fill="#507050"/><rect x="860" fill="#005858"/><rect x="889.5" fill="#504870"/><rect x="919" fill="#103838"/></g>
<g transform="translate(0,887.5)"><rect x="4.5" fill="#b880b0"/><rect x="34" fill="#a85880"/><rect x="63.5" fill="#808080"/><rect x="93" fill="#8058a8"/><rect x="122.5" fill="#a82850"/><rect x="152" fill="#588058"/><rect x="181.5" fill="#5830a8"/><rect x="211" fill="#b00030"/><rect x="240.5" fill="#b03030"/><rect x="270" fill="#b05830"/><rect x="299.5" fill="#b08030"/><rect x="329" fill="#888030"/><rect x="358.5" fill="#608030"/><rect x="388" fill="#308030"/><rect x="417.5" fill="#308058"/><rect x="447" fill="#308080"/><rect x="476.5" fill="#3088a8"/><rect x="506" fill="#3058b0"/><rect x="535.5" fill="#3030b0"/><rect x="565" fill="#2800b0"/><rect x="594.5" fill="#5000b0"/><rect x="624" fill="#7800b0"/><rect x="653.5" fill="#a800b0"/><rect x="683" fill="#a80080"/><rect x="712.5" fill="#a80058"/><rect x="742" fill="#a07850"/><rect x="771.5" fill="#487898"/><rect x="801" fill="#903090"/><rect x="830.5" fill="#785050"/><rect x="860" fill="#504870"/><rect x="889.5" fill="#580058"/><rect x="919" fill="#381038"/></g>
<g transform="translate(0,917)"><rect x="4.5" fill="#888888"/><rect x="34" fill="#885858"/><rect x="63.5" fill="#588858"/><rect x="93" fill="#585888"/><rect x="122.5" fill="#802830"/><rect x="152" fill="#308030"/><rect x="181.5" fill="#303080"/><rect x="211" fill="#880000"/><rect x="240.5" fill="#883000"/><rect x="270" fill="#885800"/><rect x="299.5" fill="#888000"/><rect x="329" fill="#608000"/><rect x="358.5" fill="#308000"/><rect x="388" fill="#008000"/><rect x="417.5" fill="#008030"/><rect x="447" fill="#008058"/><rect x="476.5" fill="#008080"/><rect x="506" fill="#005880"/><rect x="535.5" fill="#003080"/><rect x="565" fill="#000080"/><rect x="594.5" fill="#280080"/><rect x="624" fill="#500080"/><rect x="653.5" fill="#780080"/><rect x="683" fill="#780058"/><rect x="712.5" fill="#780030"/><rect x="742" fill="#305830"/><rect x="771.5" fill="#383860"/><rect x="801" fill="#482838"/><rect x="830.5" fill="#302800"/><rect x="860" fill="#103838"/><rect x="889.5" fill="#381038"/><rect x="919" fill="#000000"/></g>
</g>
<g id="frame" fill="#000">
<rect x="0" y="0" width="952" height="8"/>
<rect x="0" y="0" width="8" height="951"/>
<rect x="946.5" y="0" width="5.5" height="951"/>
<rect x="0" y="945" width="952" height="6"/>
<rect x="206.8" y="0" width="5.6" height="951"/>
<rect x="739" y="0" width="5.5" height="951"/>
<rect x="0" y="206.7" width="952" height="5.5"/>
<rect x="0" y="739" width="952" height="5.5"/>
</g>
<g id="connectors">
<path class="k" d="M284.3,108.3H342.7V192.7H284.3Z"/>
<path class="k" d="M460,49H520V134.3H460Z"/>
<path class="k" d="M642,77.5H700V166.5H642Z"/>
<path class="k" d="M106.7,284.7H195.3V342H106.7Z"/>
<path class="k" d="M52.7,461H137.3V518.7H52.7Z"/>
<path class="k" d="M78.3,636.7H163.3V696H78.3Z"/>
<g fill="#000">
<circle cx="284.3" cy="108.3" r="5"/><circle cx="342.7" cy="108.3" r="5"/><circle cx="284.3" cy="192.7" r="5"/><circle cx="342.7" cy="192.7" r="5"/>
<circle cx="460" cy="49" r="5"/><circle cx="520" cy="49" r="5"/><circle cx="460" cy="134.3" r="5"/><circle cx="520" cy="134.3" r="5"/>
<circle cx="642" cy="77.5" r="5"/><circle cx="700" cy="77.5" r="5"/><circle cx="642" cy="166.5" r="5"/><circle cx="700" cy="166.5" r="5"/>
<circle cx="106.7" cy="284.7" r="5"/><circle cx="195.3" cy="284.7" r="5"/><circle cx="106.7" cy="342" r="5"/><circle cx="195.3" cy="342" r="5"/>
<circle cx="52.7" cy="461" r="5"/><circle cx="137.3" cy="461" r="5"/><circle cx="52.7" cy="518.7" r="5"/><circle cx="137.3" cy="518.7" r="5"/>
<circle cx="78.3" cy="636.7" r="5"/><circle cx="163.3" cy="636.7" r="5"/><circle cx="78.3" cy="696" r="5"/><circle cx="163.3" cy="696" r="5"/>
</g>
<path class="wd" d="M787.3,253.3H871.3V722.2H787.3Z"/>
<path class="wd" d="M260.2,787H729.1V871.3H260.2Z"/>
<path class="w" d="M820.7,371.6H905.7V429.8H820.7Z"/>
<path class="w" d="M761.3,554.3H845.7V613H761.3Z"/>
<path class="w" d="M374.7,817.3H433.3V902H374.7Z"/>
<path class="w" d="M550.9,757H609.5V842H550.9Z"/>
<g fill="#fff">
<circle cx="787.3" cy="253.3" r="5"/><circle cx="871.3" cy="253.3" r="5"/><circle cx="787.3" cy="722.2" r="5"/><circle cx="871.3" cy="722.2" r="5"/>
<circle cx="260.2" cy="787" r="5"/><circle cx="729.1" cy="787" r="5"/><circle cx="260.2" cy="871.3" r="5"/><circle cx="729.1" cy="871.3" r="5"/>
<circle cx="820.7" cy="371.6" r="5"/><circle cx="905.7" cy="371.6" r="5"/><circle cx="820.7" cy="429.8" r="5"/><circle cx="905.7" cy="429.8" r="5"/>
<circle cx="761.3" cy="554.3" r="5"/><circle cx="845.7" cy="554.3" r="5"/><circle cx="761.3" cy="613" r="5"/><circle cx="845.7" cy="613" r="5"/>
<circle cx="374.7" cy="817.3" r="5"/><circle cx="433.3" cy="817.3" r="5"/><circle cx="374.7" cy="902" r="5"/><circle cx="433.3" cy="902" r="5"/>
<circle cx="550.9" cy="757" r="5"/><circle cx="609.5" cy="757" r="5"/><circle cx="550.9" cy="842" r="5"/><circle cx="609.5" cy="842" r="5"/>
</g>
<path class="ld" d="M935.3,19L964.7,47.7L874,47.7"/>
<path class="ld" d="M700,77.5L964,72"/>
<path class="ld" d="M850.3,106L959.7,110.3L787.3,134.7"/>
<path class="ld" d="M817.3,164.7L963.7,135L756.3,195.7"/>
<path class="ld" d="M871.3,253.3L982.3,181L905.7,429.8"/>
<path class="kd" d="M410,408L690,688"/>
<path class="kd" d="M413,400H699V683"/>
<path class="kd" d="M463,460H697"/>
<circle class="ck" cx="463.3" cy="400" r="15"/>
<circle class="ck" cx="521.7" cy="400" r="15"/>
<circle class="ck" cx="463.3" cy="460" r="15"/>
<circle class="ck" cx="521.7" cy="460" r="15"/>
<circle class="ck" cx="577" cy="577" r="15"/>
<circle class="ck" cx="699" cy="696" r="15"/>
<circle cx="933" cy="399" r="15" fill="#008000" stroke="#fff" stroke-width="2.5"/>
<circle cx="933" cy="460" r="15" fill="#008058" stroke="#fff" stroke-width="2.5"/>
</g>
<g id="labels">
<text class="n" x="32.75" y="27">11</text>
<text class="n" x="62.25" y="56">14</text>
<text class="n" x="91.75" y="85.5">13</text>
<text class="n" x="121.25" y="115">12</text>
<text class="n" x="150.75" y="143">41</text>
<text class="n" x="180.25" y="174">31</text>
<text class="n" x="209.75" y="203.5">21</text>
<text class="n" x="239.25" y="233">44</text>
<text class="nw" x="268.75" y="262.5">-23</text>
<text class="n" x="298.25" y="291">42</text>
<text class="nw" x="327.75" y="321.5">-22</text>
<text class="n" x="357.25" y="351">34</text>
<text class="nw" x="386.75" y="380.5">-24</text>
<text class="n" x="416.25" y="410">33</text>
<text class="nw" x="445.75" y="439.5">-42</text>
<text class="n" x="475.25" y="469">32</text>
<text class="nw" x="504.75" y="498.5">-44</text>
<text class="n" x="534.25" y="528">23</text>
<text class="nw" x="563.75" y="557.5">-43</text>
<text class="n" x="593.25" y="586">22</text>
<text class="nw" x="622.75" y="616.5">-34</text>
<text class="n" x="652.25" y="646">24</text>
<text class="nw" x="681.75" y="675.5">-33</text>
<text class="n" x="711.25" y="705">43</text>
<text class="nw" x="740.75" y="733.5">-32</text>
<text class="nr" x="770.25" y="764">-21</text>
<text class="nr" x="799.75" y="793.5">-41</text>
<text class="nr" x="829.25" y="823">-31</text>
<text class="nr" x="858.75" y="852.5">-12</text>
<text class="nr" x="888.25" y="882">-14</text>
<text class="nr" x="917.75" y="911.5">-13</text>
<text class="nr" x="947.25" y="940.5">-11</text>
<text class="t" x="465" y="377" text-anchor="middle">ud</text>
<text class="t" x="521" y="377" text-anchor="middle">d/d</text>
<text class="t" x="522" y="437" text-anchor="middle">π+</text>
<text class="t" x="607" y="424.5">neutron</text>
<text class="t" x="566" y="480.5">proton</text>
<text class="t" x="963.5" y="406">d/e</text>
<text class="t" x="966" y="468">u/v</text>
</g>
</svg>
